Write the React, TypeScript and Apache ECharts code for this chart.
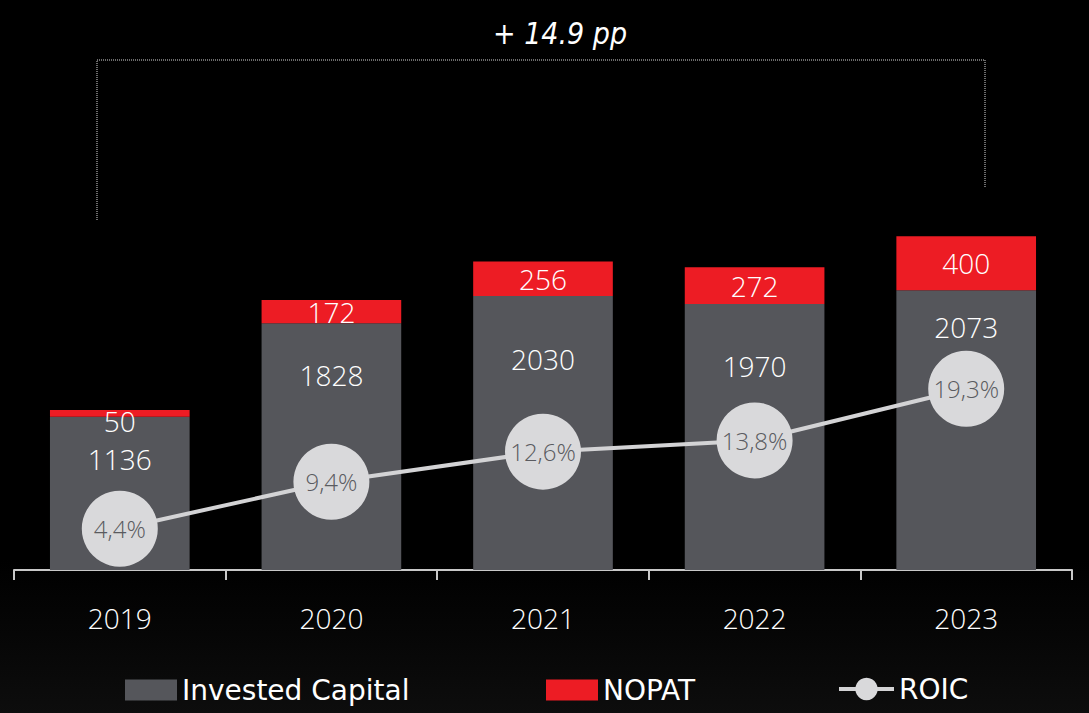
import React, { useEffect, useRef } from "react";
import * as echarts from "echarts";

const years = ["2019", "2020", "2021", "2022", "2023"];
const investedCapital = [1136, 1828, 2030, 1970, 2073];
const nopat = [50, 172, 256, 272, 400];
const roic = [4.4, 9.4, 12.6, 13.8, 19.3];
const deltaLabel = "+ 14.9 pp";

// label placement (style only)
const invLabelDistance = [28, 38, 49, 48, 23];
const nopatLabelOffset = [[0, 8], [0, 0], [0, 0], [0, 0], [0, 0]];

const FONT = "'Open Sans', 'Noto Sans', sans-serif";
const LEGEND_FONT = "'DejaVu Sans', 'Open Sans', sans-serif";
const W = 300;

export default function App() {
  const ref = useRef<HTMLDivElement>(null);
  useEffect(() => {
    if (!ref.current) return;
    const chart = echarts.init(ref.current, null, { renderer: "svg" });
    const legendText = { color: "#ffffff", fontSize: 28, fontFamily: LEGEND_FONT, fontWeight: "normal" };
    const option: any = {
      animation: false,
      backgroundColor: "#000000",
      textStyle: { fontFamily: FONT },
      grid: { left: 14, right: 17, top: 30, bottom: 143, containLabel: false },
      xAxis: {
        type: "category",
        data: years,
        boundaryGap: true,
        axisLine: { show: true, lineStyle: { color: "#c8c8c8", width: 2 } },
        axisTick: { show: true, length: 10, lineStyle: { color: "#c8c8c8", width: 2 } },
        axisLabel: { color: "#ffffff", fontSize: 28, margin: 34, fontFamily: FONT, fontWeight: W },
      },
      yAxis: [
        { type: "value", min: 0, max: 4000, show: false, splitLine: { show: false } },
        { type: "value", min: 0, max: 57.5, show: false, splitLine: { show: false } },
      ],
      legend: [
        {
          data: ["Invested Capital"],
          icon: "rect",
          left: 120,
          top: 671,
          itemWidth: 52,
          itemHeight: 21,
          textStyle: legendText,
        },
        {
          data: ["NOPAT"],
          icon: "rect",
          left: 541,
          top: 671,
          itemWidth: 52,
          itemHeight: 21,
          textStyle: legendText,
        },
        {
          data: ["ROIC"],
          left: 832,
          top: 670,
          itemWidth: 55,
          itemHeight: 28,
          lineStyle: { width: 4, color: "#d3d3d5" },
          textStyle: legendText,
        },
      ],
      graphic: [
        {
          type: "rect",
          z: -10,
          silent: true,
          shape: { x: 0, y: 560, width: 1089, height: 153 },
          style: {
            fill: new echarts.graphic.LinearGradient(0, 0, 0, 1, [
              { offset: 0, color: "rgba(12,12,12,0)" },
              { offset: 1, color: "rgba(13,13,13,1)" },
            ]),
          },
        },
        {
          type: "polyline",
          silent: true,
          shape: { points: [[97, 220], [97, 60], [985, 60], [985, 187]] },
          style: { stroke: "#d8d8d8", lineWidth: 1, lineDash: [1, 1], fill: null },
        },
        {
          type: "text",
          silent: true,
          x: 560,
          y: 33,
          style: {
            text: deltaLabel,
            fill: "#ffffff",
            font: "italic 30px 'DejaVu Sans Condensed', 'Open Sans', sans-serif",
            align: "center",
            verticalAlign: "middle",
          },
        },
      ],
      series: [
        {
          name: "Invested Capital",
          type: "bar",
          stack: "total",
          barWidth: "66%",
          itemStyle: { color: "#55565b" },
          data: investedCapital.map((v, i) => ({
            value: v,
            label: { distance: invLabelDistance[i] },
          })),
          label: {
            show: true,
            position: "insideTop",
            color: "#ffffff",
            fontSize: 28,
            lineHeight: 28,
            fontFamily: FONT,
            fontWeight: W,
          },
          z: 2,
        },
        {
          name: "NOPAT",
          type: "bar",
          stack: "total",
          barWidth: "66%",
          itemStyle: { color: "#ed1c24" },
          data: nopat.map((v, i) => ({
            value: v,
            label: { offset: nopatLabelOffset[i] },
          })),
          label: {
            show: true,
            position: "inside",
            color: "#ffffff",
            fontSize: 28,
            lineHeight: 28,
            fontFamily: FONT,
            fontWeight: W,
          },
          z: 2,
        },
        {
          name: "ROIC",
          type: "line",
          yAxisIndex: 1,
          data: roic,
          symbol: "circle",
          symbolSize: 76,
          lineStyle: { color: "#d3d3d5", width: 4 },
          itemStyle: { color: "#d9d9db", borderWidth: 0 },
          label: {
            show: true,
            position: "inside",
            color: "#5a5b60",
            fontSize: 24,
            fontFamily: FONT,
            fontWeight: W,
            formatter: (p: any) => p.value.toFixed(1).replace(".", ",") + "%",
          },
          z: 5,
        },
      ],
    };
    chart.setOption(option);
    return () => chart.dispose();
  }, []);
  return (
    <div
      ref={ref}
      style={{ position: "fixed", left: 0, top: 0, width: 1089, height: 713 }}
    />
  );
}
